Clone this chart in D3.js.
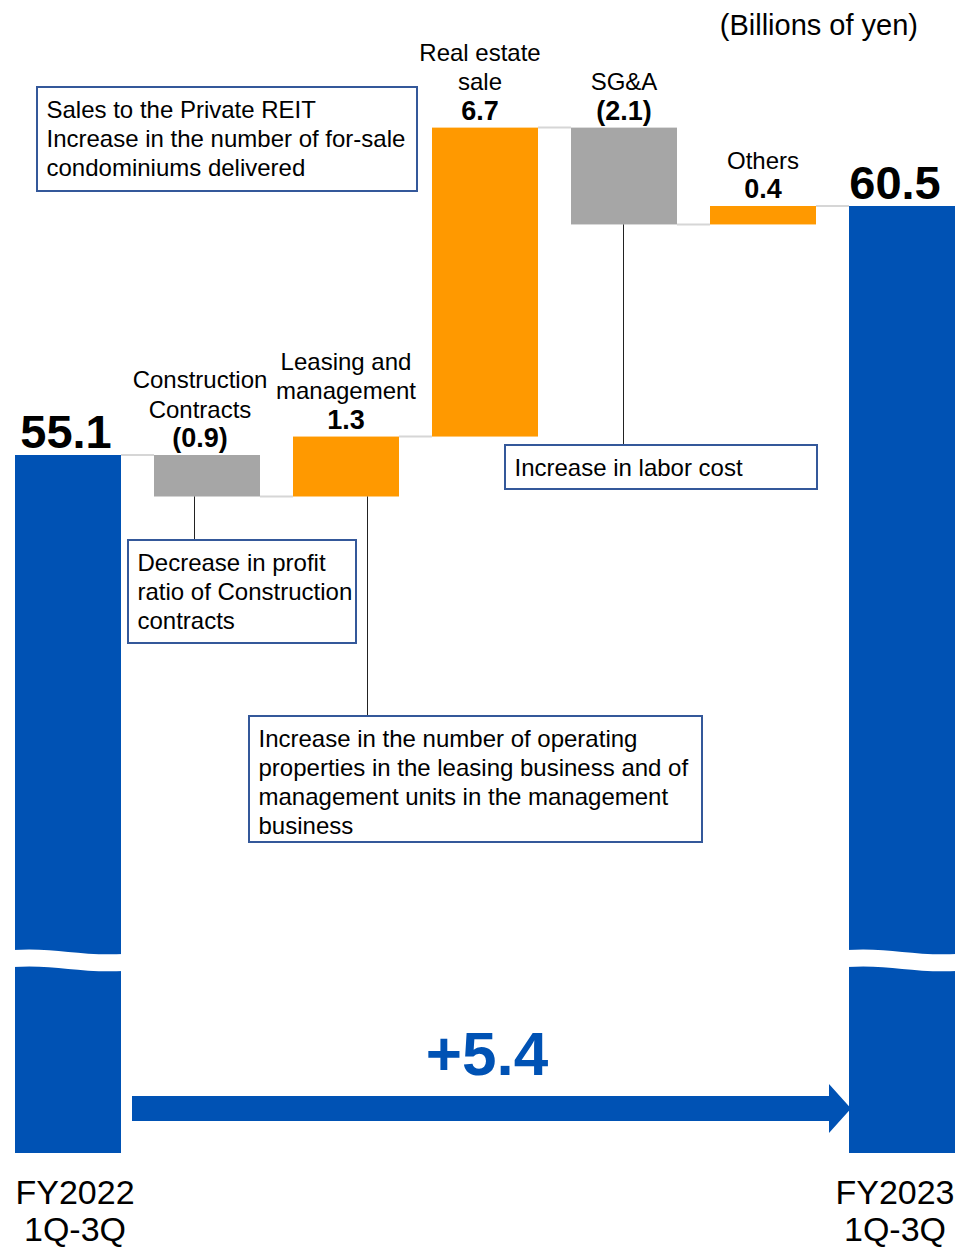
<!DOCTYPE html>
<html>
<head>
<meta charset="utf-8">
<script src="https://cdn.jsdelivr.net/npm/d3@7"></script>
<style>
  html, body { margin: 0; padding: 0; background: #fff; }
  svg { display: block; font-family: "Liberation Sans", Arial, sans-serif; }
</style>
</head>
<body>
<svg id="chart" width="956" height="1247"></svg>
<script>
// Operating profit bridge, FY2022 1Q-3Q -> FY2023 1Q-3Q (billions of yen)
const categories = ["FY2022 1Q-3Q", "Construction Contracts", "Leasing and management",
                    "Real estate sale", "SG&A", "Others", "FY2023 1Q-3Q"];
const kinds  = ["total", "delta", "delta", "delta", "delta", "delta", "total"];
const values = [55.1, -0.9, 1.3, 6.7, -2.1, 0.4, 60.5];
const valueLabels = ["55.1", "(0.9)", "1.3", "6.7", "(2.1)", "0.4", "60.5"];
const headingLines = [[], ["Construction", "Contracts"], ["Leasing and", "management"],
                      ["Real estate", "sale"], ["SG&A"], ["Others"], []];
const periodLines = [["FY2022", "1Q-3Q"], ["FY2023", "1Q-3Q"]];
const totalChange = "+5.4";
const unitLabel = "(Billions of yen)";

// explanatory notes: which bar they belong to and their text
const noteBars  = [3, 1, 2, 4];
const noteTexts = [
  ["Sales to the Private REIT", "Increase in the number of for-sale", "condominiums delivered"],
  ["Decrease in profit", "ratio of Construction", "contracts"],
  ["Increase in the number of operating", "properties in the leasing business and of",
   "management units in the management", "business"],
  ["Increase in labor cost"]
];

// ---- layout ----
const BLUE = "#0052B4", ORANGE = "#FF9900", GREY = "#A6A6A6";
const NOTE_BORDER = "#34589A";
const baseY = 1153;        // bottom of the (broken) total bars
const breakY = 950;        // top edge of the axis break band

// note boxes: [x, y, w, h], leader x
const noteBoxes = [[37, 87, 380, 104], [128, 540, 228, 103], [249, 716, 453, 126], [505, 445, 312, 44]];
const noteLeaderX = [null, 194.5, 367.5, 623.5];
const headingDx = [0, -7, 0, -5, 0, 0, 0];
const totalDx = [-2, 0, 0, 0, 0, 0, -7];

const svg = d3.select("#chart");

// running totals -> bar start/end
const bars = [];
let running = 0;
values.forEach((v, i) => {
  if (kinds[i] === "total") {
    bars.push({ i, start: null, end: v, kind: "total" });
    running = v;
  } else {
    bars.push({ i, start: running, end: running + v, kind: v < 0 ? "down" : "up" });
    running += v;
  }
});

const x = d3.scaleBand().domain(categories).range([15, 955]).paddingInner(0.2374).paddingOuter(0);
const y = d3.scaleLinear().domain([values[0], values[values.length - 1]]).range([455, 206]);
const bw = x.bandwidth();
const cx = d => x(categories[d.i]) + bw / 2;

const color = d => d.kind === "total" ? BLUE : (d.kind === "down" ? GREY : ORANGE);

// connector lines between consecutive bars at the running level
const connectors = [];
for (let k = 0; k < bars.length - 1; k++) {
  connectors.push({ x1: x(categories[k]) + bw, x2: x(categories[k + 1]), level: bars[k].end });
}
svg.append("g").selectAll("line").data(connectors).join("line")
  .attr("x1", d => d.x1).attr("x2", d => d.x2)
  .attr("y1", d => y(d.level)).attr("y2", d => y(d.level))
  .attr("stroke", "#D6D6D6").attr("stroke-width", 2);

// bars
svg.append("g").selectAll("rect").data(bars).join("rect")
  .attr("x", d => x(categories[d.i]))
  .attr("width", bw)
  .attr("y", d => d.kind === "total" ? y(d.end) : y(Math.max(d.start, d.end)))
  .attr("height", d => d.kind === "total" ? baseY - y(d.end) : Math.abs(y(d.start) - y(d.end)))
  .attr("fill", color);

// axis break on the total bars
const totalsBars = bars.filter(d => d.kind === "total");
svg.append("g").selectAll("path").data(totalsBars).join("path")
  .attr("d", d => {
    const x0 = x(categories[d.i]) - 2, x1 = x0 + bw + 4, w = x1 - x0;
    return `M${x0},${breakY} C${x0 + w * 0.35},${breakY - 3} ${x0 + w * 0.6},${breakY + 6} ${x1},${breakY + 4}`
      + ` L${x1},${breakY + 21}`
      + ` C${x0 + w * 0.6},${breakY + 23} ${x0 + w * 0.35},${breakY + 14} ${x0},${breakY + 17} Z`;
  })
  .attr("fill", "#fff");

// leader lines from bars to notes
const leaders = noteBars.map((b, k) => ({ b, k })).filter(d => noteLeaderX[d.k] !== null);
svg.append("g").selectAll("line").data(leaders).join("line")
  .attr("x1", d => noteLeaderX[d.k]).attr("x2", d => noteLeaderX[d.k])
  .attr("y1", d => y(Math.min(bars[d.b].start, bars[d.b].end)))
  .attr("y2", d => noteBoxes[d.k][1])
  .attr("stroke", "#222").attr("stroke-width", 1);

// note boxes
const notes = svg.append("g").selectAll("g").data(noteTexts).join("g");
notes.append("rect")
  .attr("x", (d, k) => noteBoxes[k][0]).attr("y", (d, k) => noteBoxes[k][1])
  .attr("width", (d, k) => noteBoxes[k][2]).attr("height", (d, k) => noteBoxes[k][3])
  .attr("fill", "#fff").attr("stroke", NOTE_BORDER).attr("stroke-width", 2);
notes.each(function (lines, k) {
  const g = d3.select(this);
  g.selectAll("text").data(lines).join("text")
    .attr("x", noteBoxes[k][0] + 9.5)
    .attr("y", (t, j) => noteBoxes[k][1] + 31 + j * 29)
    .attr("font-size", 24)
    .attr("fill", "#000")
    .text(t => t);
});

// category headings + value labels above each change bar
const deltas = bars.filter(d => d.kind !== "total");
deltas.forEach(d => {
  const top = y(Math.max(d.start, d.end));
  const lx = cx(d) + headingDx[d.i];
  const valY = top - 8;
  svg.append("text")
    .attr("x", lx).attr("y", valY)
    .attr("text-anchor", "middle").attr("font-size", 27).attr("font-weight", "bold")
    .text(valueLabels[d.i]);
  const lines = headingLines[d.i];
  lines.forEach((t, j) => {
    svg.append("text")
      .attr("x", lx).attr("y", valY - 29.5 * (lines.length - j))
      .attr("text-anchor", "middle").attr("font-size", 24)
      .text(t);
  });
});

// total value labels
totalsBars.forEach(d => {
  svg.append("text")
    .attr("x", cx(d) + totalDx[d.i]).attr("y", y(d.end) - 7)
    .attr("text-anchor", "middle").attr("font-size", 47).attr("font-weight", "bold")
    .text(valueLabels[d.i]);
});

// period labels under the total bars
totalsBars.forEach((d, k) => {
  periodLines[k].forEach((t, j) => {
    svg.append("text")
      .attr("x", cx(d) + (k === 0 ? 7 : -7)).attr("y", baseY + 51 + j * 37)
      .attr("text-anchor", "middle").attr("font-size", 34)
      .text(t);
  });
});

// overall change arrow
const ax0 = x(categories[0]) + bw + 11;
const ax1 = x(categories[categories.length - 1]) + 2;
const ayMid = 1108.5, half = 12.5, headHalf = 24.5, headLen = 22;
svg.append("path")
  .attr("d", `M${ax0},${ayMid - half} L${ax1 - headLen},${ayMid - half} L${ax1 - headLen},${ayMid - headHalf}`
    + ` L${ax1},${ayMid} L${ax1 - headLen},${ayMid + headHalf} L${ax1 - headLen},${ayMid + half} L${ax0},${ayMid + half} Z`)
  .attr("fill", BLUE);
svg.append("text")
  .attr("x", 487).attr("y", 1075)
  .attr("text-anchor", "middle").attr("font-size", 62).attr("font-weight", "bold")
  .attr("fill", BLUE)
  .text(totalChange);

// unit label
svg.append("text")
  .attr("x", 918).attr("y", 35)
  .attr("text-anchor", "end").attr("font-size", 29)
  .text(unitLabel);
</script>
</body>
</html>
